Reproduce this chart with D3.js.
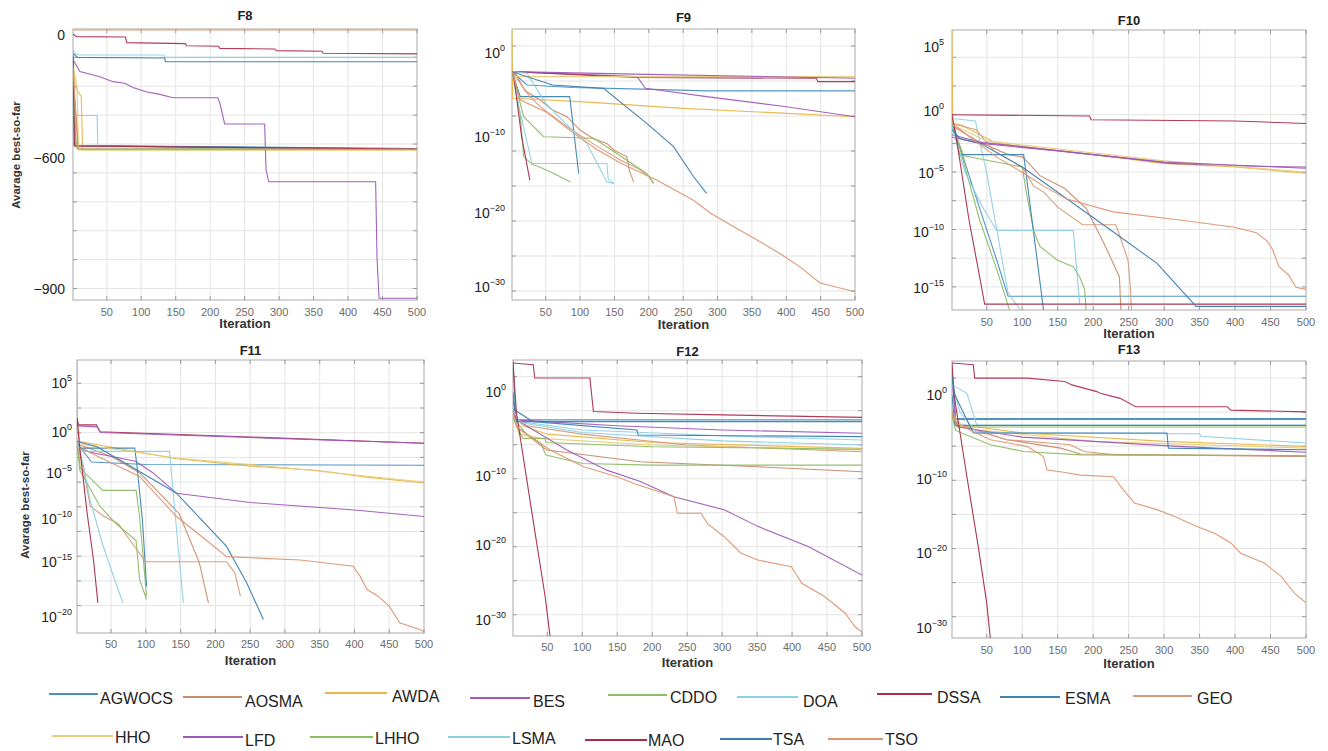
<!DOCTYPE html>
<html>
<head>
<meta charset="utf-8">
<script src="https://cdn.jsdelivr.net/npm/d3@7"></script>
<style>
  body { margin: 0; background: #fff; }
  svg { display: block; }
  text { font-family: "Liberation Sans", Arial, sans-serif; }
</style>
</head>
<body>
<svg id="chart" width="1328" height="751"></svg>
<script>
// ---- Algorithms and their line colours ----
const algorithms = ["AGWOCS","AOSMA","AWDA","BES","CDDO","DOA","DSSA","ESMA","GEO",
                    "HHO","LFD","LHHO","LSMA","MAO","TSA","TSO"];
const colors = ["#4a90c2","#c98a6a","#e8b64a","#a35ab8","#8dba6a","#8fd0e6","#b02e4e","#3d84b0","#d69a78",
                "#e6cc7a","#9b5ab8","#8dbb62","#8ccfe0","#a82c48","#3c7eb3","#df9470"];

// ---- Axis ticks ----
const iterTicks = [50,100,150,200,250,300,350,400,450,500];
const ticksF8  = [0,-600,-900];              // linear values
const ticksF9  = [0,-10,-20,-30];            // log10 exponents
const ticksF10 = [5,0,-5,-10,-15];
const ticksF11 = [5,0,-5,-10,-15,-20];
const ticksF12 = [0,-10,-20,-30];
const ticksF13 = [0,-10,-20,-30];

// ---- Convergence curves: [iteration, value] (F8 linear, F9–F13 as log10 of the best-so-far) ----
// one entry per algorithm, in the order of `algorithms`
const curvesF8 = [
  [[1,-140],[4,-538],[230,-548],[260,-555],[500,-555]],
  [[1,-190],[9,-556],[500,-556]],
  [[1,-120],[4,-250],[13,-300],[15,-559],[500,-559]],
  [[1,-170],[5,-540],[500,-555]],
  [[1,-200],[5,-538],[200,-545],[250,-555],[500,-555]],
  [[1,-73],[4,-90],[10,-97],[133,-97],[134,-109],[500,-109]],
  [[1,5],[6,-8],[77,-10],[79,-37],[164,-42],[166,-52],[212,-55],[214,-65],[294,-68],[296,-76],[362,-79],[364,-89],[500,-92]],
  [[1,-110],[3,-538],[500,-552]],
  [[1,24],[500,24]],
  [[1,-150],[7,-250],[9,-559],[500,-559]],
  [[1,-120],[11,-178],[40,-203],[59,-227],[76,-235],[88,-255],[107,-276],[127,-289],[146,-305],[211,-305],[214,-332],[221,-433],[279,-433],[281,-627],[285,-654],[440,-654],[442,-830],[445,-922],[500,-922]],
  [[1,-230],[6,-550],[500,-556]],
  [[1,-200],[2,-392],[36,-392],[37,-556],[500,-556]],
  [[1,-100],[3,-540],[500,-555]],
  [[1,-90],[8,-109],[134,-112],[135,-130],[500,-130]],
  [[1,-160],[8,-556],[500,-556]]
];
const curvesF9 = [
  [[1,-2.2],[23,-3.8],[90,-4.1],[190,-4.3],[284,-4.5],[500,-4.5]],
  [[1,-2.2],[6,-2.4],[20,-4.5],[42,-5.6],[60,-6.8],[81,-7.6],[100,-9.2],[120,-10.3],[139,-10.9],[150,-11.8],[168,-12.6],[172,-14.5],[178,-15.9]],
  [[1,2.8],[2,-5.4],[100,-5.8],[250,-6.6],[400,-7.2],[500,-7.6]],
  [[1,-2.2],[183,-2.8],[195,-4.2],[284,-5.2],[400,-6.4],[500,-7.6]],
  [[1,-2.2],[13,-7.4],[18,-12.6],[30,-13.6],[42,-14.0],[62,-14.8],[86,-15.9]],
  [[1,-2.2],[10,-6],[30,-13.5],[139,-13.5],[141,-15.5],[149,-16.1]],
  [[1,-2.2],[183,-2.9],[444,-3.0],[446,-3.4],[500,-3.4]],
  [[1,-2.2],[13,-5.2],[85,-5.2],[98,-14.8]],
  [[1,-2.2],[8,-3],[25,-5],[42,-6.4],[81,-8.8],[124,-11.2],[158,-13.0],[185,-14.2],[200,-15.2],[207,-16.1]],
  [[1,-2.2],[5,-2.8],[500,-2.8]],
  [[1,-2.2],[180,-2.5],[440,-2.9],[500,-3.0]],
  [[1,-2.2],[18,-7.6],[47,-10.0],[120,-10.2],[150,-12],[197,-14.8],[207,-16.1]],
  [[1,-2.2],[23,-2.4],[50,-6],[80,-8.5],[110,-10.9],[139,-15.9],[149,-16.1]],
  [[1,-2.2],[4,-3],[15,-10],[27,-15.7]],
  [[1,-2.2],[60,-3.8],[134,-4.2],[197,-8.4],[236,-11.3],[265,-15.2],[284,-17.4]],
  [[1,-2.2],[13,-5.6],[50,-7],[91,-9.6],[125,-11.7],[160,-13.5],[212,-15.7],[265,-18.3],[290,-20],[323,-21.8],[357,-23.6],[391,-25.5],[420,-27.3],[449,-29.5],[500,-30.7]]
];
const curvesF10 = [
  [[1,-0.6],[10,-2.5],[40,-8],[64,-12.5],[80,-15.7],[500,-15.7]],
  [[1,-1.2],[40,-2.5],[80,-3.5],[101,-3.7],[125,-5.2],[160,-6.3],[190,-8.0],[215,-11],[237,-14],[239,-16.9]],
  [[1,6.3],[2,-1.0],[13,-1.1],[64,-2.6],[200,-3.5],[298,-4.2],[400,-4.5],[500,-5.0]],
  [[1,-2.1],[41,-2.6],[150,-3.2],[250,-3.8],[308,-4.2],[400,-4.4],[500,-4.5]],
  [[1,-1.2],[18,-3.6],[100,-4.5],[106,-6.7],[116,-9.9],[125,-11.3],[149,-12.5],[172,-13.1],[181,-14],[188,-15.1],[190,-16.9]],
  [[1,-0.6],[34,-0.8],[50,-5],[80,-15.4],[97,-16.9]],
  [[1,-0.3],[195,-0.4],[197,-0.7],[400,-0.8],[500,-1.0]],
  [[1,-1.0],[12,-3.5],[102,-3.5],[130,-16.9]],
  [[1,-1.0],[35,-1.5],[60,-3.2],[100,-4.5],[116,-6.1],[130,-6.6],[150,-7.9],[185,-9.4],[232,-9.4],[236,-10.1],[249,-12.5],[252,-14.5],[254,-16.9]],
  [[1,-1.1],[50,-2.4],[300,-4.0],[500,-4.9]],
  [[1,-1.9],[40,-2.5],[200,-3.5],[300,-4.1],[500,-4.6]],
  [[1,-1.2],[12,-3],[40,-9],[65,-13.5],[82,-16.9]],
  [[1,-1.2],[20,-5],[45,-8],[64,-9.9],[172,-9.9],[181,-16.4]],
  [[1,-0.3],[8,-2.5],[25,-9],[40,-14],[47,-16.4],[500,-16.4]],
  [[1,-1.5],[12,-2.2],[41,-2.6],[100,-4.5],[228,-10],[290,-12.8],[345,-16.6],[500,-16.6]],
  [[1,-1.1],[8,-1.3],[64,-3.7],[102,-5],[130,-6.1],[163,-7.2],[228,-8.3],[322,-9],[397,-9.6],[430,-10.1],[445,-10.8],[453,-11.6],[462,-13.1],[475,-13.8],[486,-14.9],[500,-15.1]]
];
const curvesF11 = [
  [[1,-1.4],[22,-3.7],[100,-4.0],[500,-4.1]],
  [[1,-1.5],[50,-3],[91,-5],[148,-9.4],[177,-15.1],[190,-18.7]],
  [[1,7.4],[2,0.5],[5,-1.2],[144,-3.3],[250,-4.2],[345,-4.7],[420,-5.5],[500,-6.1]],
  [[1,-1.8],[20,-2.5],[85,-3.6],[110,-5],[144,-7.2],[250,-8.2],[400,-9],[500,-9.7]],
  [[1,-1.3],[6,-4.5],[38,-6.9],[86,-6.9],[91,-9.7],[101,-18.1]],
  [[1,-1.0],[5,-2.4],[134,-2.4],[138,-6],[145,-12],[154,-18.7]],
  [[1,1.4],[3,0.7],[29,0.7],[34,0],[200,-0.5],[400,-1.1],[500,-1.4]],
  [[1,-1.2],[5,-2.0],[84,-2.0],[87,-4],[95,-10],[101,-17.2]],
  [[1,-1.5],[10,-4.4],[20,-8.6],[40,-9.7],[60,-10.5],[80,-12.8],[100,-15],[216,-15],[228,-16],[236,-18.1]],
  [[1,-1.0],[10,-1.6],[144,-3.2],[300,-4.4],[500,-6.0]],
  [[1,1.2],[3,0.6],[30,0.5],[35,-0.1],[500,-1.4]],
  [[1,-1.5],[5,-4.7],[34,-8.6],[57,-10.5],[86,-12.5],[91,-16.6],[101,-18.4]],
  [[1,-1.0],[10,-4],[20,-8],[38,-13],[55,-16.6],[67,-18.7]],
  [[1,1.4],[5,-2],[15,-9],[25,-15],[31,-18.7]],
  [[1,-1.2],[29,-1.8],[72,-3.9],[144,-7.2],[216,-13.2],[245,-16.9],[269,-20.2]],
  [[1,-1.8],[91,-5.4],[144,-9.7],[192,-12.8],[216,-14.4],[322,-14.8],[398,-15.4],[408,-16.3],[418,-17.5],[434,-18.1],[450,-19],[465,-20.5],[494,-21.1],[500,-21.3]]
];
const curvesF12 = [
  [[1,3.8],[5,-3.3],[500,-3.3]],
  [[1,-2.5],[6,-4.1],[49,-6.9],[183,-8.3],[351,-8.9],[500,-9.5]],
  [[1,-2.5],[15,-4],[50,-5],[200,-6],[500,-6.7]],
  [[1,-1],[6,-3.3],[150,-4],[300,-4.5],[500,-4.9]],
  [[1,-3],[20,-5],[40,-6],[48,-7.5],[100,-8.5],[200,-8.7],[500,-8.7]],
  [[1,-2],[10,-3.5],[100,-4.5],[300,-5.2],[500,-5.7]],
  [[1,3.5],[30,3.3],[32,1.7],[111,1.7],[116,-2.3],[178,-2.5],[300,-2.7],[500,-3.0]],
  [[1,0],[6,-3.5],[500,-3.5]],
  [[1,-2.8],[20,-4],[100,-5],[250,-6.3],[500,-7.1]],
  [[1,-3],[10,-5],[40,-5.5],[200,-6.3],[500,-6.9]],
  [[1,-2],[6,-3.3],[78,-6.9],[135,-9.3],[183,-10.8],[231,-13],[303,-14.9],[351,-17.3],[423,-20.2],[500,-24]],
  [[1,-3],[15,-5.5],[47,-5.5],[48,-6],[200,-6.5],[500,-6.8]],
  [[1,-2],[10,-3.6],[100,-4.8],[300,-5.8],[500,-6.3]],
  [[1,3.5],[6,-2.5],[20,-10.1],[35,-19.8],[47,-26.9],[54,-32.2]],
  [[1,-2],[30,-3.5],[178,-4.5],[180,-5.1],[500,-5.3]],
  [[1,-2],[6,-4.1],[54,-6.9],[102,-8.9],[150,-10.1],[174,-11.1],[231,-13],[236,-15.4],[270,-15.4],[279,-16.9],[303,-18.8],[327,-21.1],[351,-22],[399,-22.9],[414,-25.1],[447,-26.9],[476,-29.1],[490,-30.9],[500,-31.6]]
];
const curvesF13 = [
  [[1,3],[6,-2.8],[500,-2.8]],
  [[1,-2.3],[8,-3.4],[78,-5.3],[154,-6.3],[182,-7.0],[500,-7.3]],
  [[1,-2],[10,-3.5],[100,-4.5],[300,-5.5],[500,-6.1]],
  [[1,2],[6,-2.9],[500,-2.9]],
  [[1,-2],[8,-3.8],[500,-3.8]],
  [[1,1.2],[22,0.2],[36,-3.6],[500,-3.6]],
  [[1,3.8],[31,3.6],[33,2.0],[107,2.0],[160,1.6],[170,1.2],[205,0.4],[210,0.2],[238,-0.4],[260,-1.4],[389,-1.4],[394,-1.8],[500,-2.0]],
  [[1,0],[5,-3.6],[500,-3.6]],
  [[1,-2],[12,-3.6],[78,-5.3],[168,-5.9],[187,-6.7],[230,-7.1],[500,-7.2]],
  [[1,-2.5],[20,-4],[200,-5.5],[500,-6.3]],
  [[1,-2.5],[10,-3.8],[100,-5],[300,-6],[500,-6.8]],
  [[1,-2.5],[6,-4.2],[55,-5.9],[102,-6.7],[182,-7.1],[500,-7.2]],
  [[1,1.5],[12,-2],[36,-4.5],[350,-4.6],[352,-4.9],[500,-5.7]],
  [[1,3.8],[4,0],[22,-9.7],[38,-19.1],[50,-26.7],[55,-31.4]],
  [[1,2],[5,0],[31,-4.5],[304,-4.5],[306,-6.3],[500,-6.5]],
  [[1,-2.5],[8,-3.4],[55,-5.3],[107,-6.1],[130,-7.3],[135,-8.9],[154,-9.1],[182,-9.5],[229,-9.7],[239,-11],[258,-13.2],[290,-14.1],[314,-15],[347,-16.4],[371,-17.3],[394,-18.6],[408,-20],[441,-21.3],[465,-23.1],[484,-25.4],[498,-26.5],[500,-26.6]]
];

// ---- Panel layout ----
// box: [left, right, top, bottom]; tickY: pixel rows of the y ticks; grid: [first row, spacing, count]
const panels = [
  { title:"F8",  curves:curvesF8,  ticks:ticksF8,  log:false, box:[73,417,29,300],  tickY:[35,158.3,288.7],
    labelX:65,  grid:[57.3,28.9,9],  titleY:15,  xTickY:312, xLabelY:323, yLabel:[16,155] },
  { title:"F9",  curves:curvesF9,  ticks:ticksF9,  log:true,  box:[512,855,29,300], tickY:[53.3,136.7,213.3,286.7],
    labelX:505, grid:[46,35,8],      titleY:17,  xTickY:312, xLabelY:324 },
  { title:"F10", curves:curvesF10, ticks:ticksF10, log:true,  box:[952,1306,30,310], tickY:[46.7,111,173.3,231.7,288.3],
    labelX:944, grid:[57.3,28.7,9],  titleY:20,  xTickY:322, xLabelY:333 },
  { title:"F11", curves:curvesF11, ticks:ticksF11, log:true,  box:[77,424,360,633], tickY:[383.3,431.7,472.7,519.3,561.7,617.3],
    labelX:72,  grid:[383.3,24.7,10], titleY:350, xTickY:644, xLabelY:660, yLabel:[25,505] },
  { title:"F12", curves:curvesF12, ticks:ticksF12, log:true,  box:[513,862,360,636], tickY:[392.3,476,545,620],
    labelX:506, grid:[376.7,34,8],   titleY:351, xTickY:647, xLabelY:662 },
  { title:"F13", curves:curvesF13, ticks:ticksF13, log:true,  box:[952,1306,361,638], tickY:[395,479.3,553.3,627.7],
    labelX:947, grid:[378,34.1,8],   titleY:349, xTickY:650, xLabelY:663 }
];

// ---- Legend layout: [line x1, line x2, line y, text x, text y] ----
const legendPos = [
  [49,98,694,100,698],[183,242,697,245,701],[325,387,693,392,696],[470,530,698,533,701],
  [608,667,695,670,697],[737,798,697,803,701],[877,932,694,937,697],[1000,1060,697,1065,698],
  [1133,1192,696,1197,698],
  [52,113,736,115,737],[183,243,737,245,740],[310,373,737,375,738],[448,510,737,512,738],
  [585,647,740,648,740],[720,772,739,773,739],[828,883,739,885,739]
];

const svg = d3.select("#chart");
const defs = svg.append("defs");
const minus = s => String(s).replace("-", "\u2212");

panels.forEach((p, pi) => {
  const [x0, x1, y0, y1] = p.box;
  const x = d3.scaleLinear().domain([1, 500]).range([x0, x1]);
  const y = d3.scaleLinear().domain(p.ticks).range(p.tickY);
  const g = svg.append("g");

  g.append("rect").attr("x", x0).attr("y", y0).attr("width", x1 - x0).attr("height", y1 - y0)
    .attr("fill", "#fff");

  // grid
  const hRows = d3.range(p.grid[2]).map(k => p.grid[0] + k * p.grid[1]);
  g.append("g").selectAll("line").data(iterTicks.slice(0, -1)).join("line")
    .attr("x1", d => x(d)).attr("x2", d => x(d)).attr("y1", y0).attr("y2", y1)
    .attr("stroke", "#e4e4e4").attr("stroke-width", 1);
  g.append("g").selectAll("line").data(hRows).join("line")
    .attr("x1", x0).attr("x2", x1).attr("y1", d => d).attr("y2", d => d)
    .attr("stroke", "#e4e4e4").attr("stroke-width", 1);

  // frame and inward tick marks
  g.append("rect").attr("x", x0).attr("y", y0).attr("width", x1 - x0).attr("height", y1 - y0)
    .attr("fill", "none").attr("stroke", "#aaa").attr("stroke-width", 1);
  const tk = g.append("g").attr("stroke", "#999").attr("stroke-width", 1);
  iterTicks.forEach(t => {
    tk.append("line").attr("x1", x(t)).attr("x2", x(t)).attr("y1", y1).attr("y2", y1 - 4);
    tk.append("line").attr("x1", x(t)).attr("x2", x(t)).attr("y1", y0).attr("y2", y0 + 4);
  });
  hRows.forEach(r => {
    tk.append("line").attr("x1", x0).attr("x2", x0 + 4).attr("y1", r).attr("y2", r);
    tk.append("line").attr("x1", x1).attr("x2", x1 - 4).attr("y1", r).attr("y2", r);
  });

  // curves
  defs.append("clipPath").attr("id", "clip" + pi)
    .append("rect").attr("x", x0).attr("y", y0).attr("width", x1 - x0).attr("height", y1 - y0);
  const line = d3.line().x(d => x(d[0])).y(d => y(d[1]));
  g.append("g").attr("clip-path", `url(#clip${pi})`)
    .selectAll("path").data(p.curves).join("path")
    .attr("d", line).attr("fill", "none")
    .attr("stroke", (d, i) => colors[i]).attr("stroke-width", 1.1).attr("stroke-opacity", 0.95);

  // x tick labels
  g.append("g").selectAll("text").data(iterTicks).join("text")
    .attr("x", d => x(d)).attr("y", p.xTickY).attr("dy", "0.35em")
    .attr("text-anchor", "middle").attr("font-size", 11).attr("fill", "#6b6b6b")
    .text(d => d);

  // y tick labels
  const yl = g.append("g").selectAll("text").data(p.ticks).join("text")
    .attr("x", p.labelX).attr("y", d => y(d) + 5)
    .attr("text-anchor", "end").attr("font-size", 14).attr("fill", "#222");
  if (p.log) {
    yl.each(function(d) {
      const t = d3.select(this);
      t.append("tspan").text("10");
      t.append("tspan").attr("dy", -7).attr("font-size", 9).text(minus(d));
    });
  } else {
    yl.text(d => minus(d));
  }

  // titles
  const cx = (x0 + x1) / 2;
  g.append("text").attr("x", cx).attr("y", p.titleY).attr("dy", "0.35em")
    .attr("text-anchor", "middle").attr("font-size", 13).attr("font-weight", "bold")
    .attr("fill", "#222").text(p.title);
  g.append("text").attr("x", cx).attr("y", p.xLabelY).attr("dy", "0.35em")
    .attr("text-anchor", "middle").attr("font-size", 13).attr("font-weight", "bold")
    .attr("fill", "#333").text("Iteration");
  if (p.yLabel) {
    g.append("text").attr("transform", `translate(${p.yLabel[0]},${p.yLabel[1]}) rotate(-90)`)
      .attr("dy", "0.35em").attr("text-anchor", "middle")
      .attr("font-size", 11.5).attr("font-weight", "bold").attr("fill", "#333")
      .text("Avarage best-so-far");
  }
});

// legend
const lg = svg.append("g").selectAll("g").data(algorithms).join("g");
lg.append("line")
  .attr("x1", (d, i) => legendPos[i][0]).attr("x2", (d, i) => legendPos[i][1])
  .attr("y1", (d, i) => legendPos[i][2]).attr("y2", (d, i) => legendPos[i][2])
  .attr("stroke", (d, i) => colors[i]).attr("stroke-width", 2);
lg.append("text")
  .attr("x", (d, i) => legendPos[i][3]).attr("y", (d, i) => legendPos[i][4])
  .attr("dy", "0.35em").attr("font-size", 16).attr("fill", "#222")
  .text(d => d);
</script>
</body>
</html>
